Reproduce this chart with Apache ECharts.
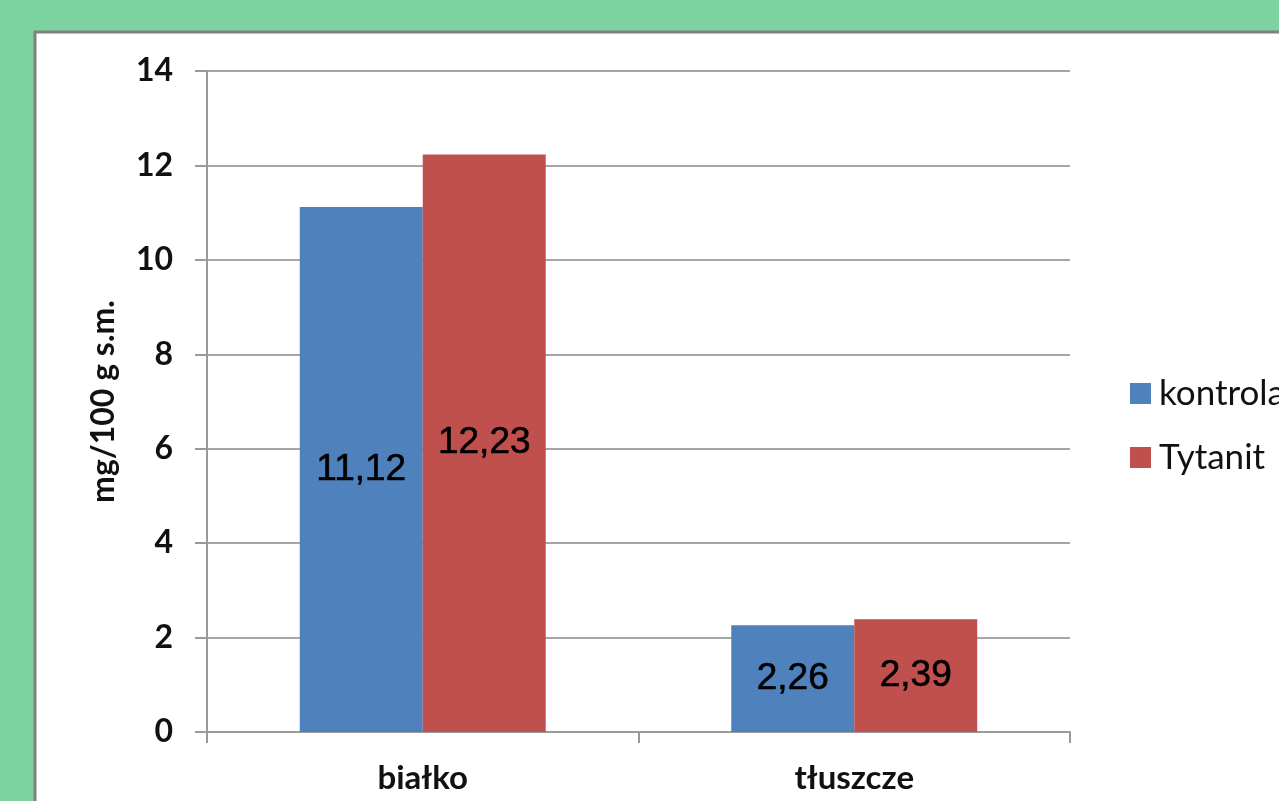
<!DOCTYPE html>
<html>
<head>
<meta charset="utf-8">
<script src="https://cdn.jsdelivr.net/npm/echarts@6/dist/echarts.min.js"></script>
<style>
  html, body { margin: 0; padding: 0; background: #7DD3A0; }
  #chart { width: 1279px; height: 801px; }
</style>
</head>
<body>
<div id="chart"></div>
<script>
const categories = ['białko', 'tłuszcze'];
const seriesNames = ['kontrola', 'Tytanit'];
const kontrola = [11.12, 2.26];
const tytanit = [12.23, 2.39];
const yTicks = { min: 0, max: 14, interval: 2 };

const chart = echarts.init(document.getElementById('chart'));

// values are printed with a decimal comma
const labelFmt = p => String(p.value).replace('.', ',');
const barLabel = {
  show: true,
  position: 'inside',
  formatter: labelFmt,
  fontFamily: '"Liberation Sans", Arial, sans-serif',
  fontSize: 37,
  color: '#000',
  textBorderColor: '#000',
  textBorderWidth: 0.6
};

chart.setOption({
  backgroundColor: '#7DD3A0',
  animation: false,
  graphic: [{
    type: 'rect',
    shape: { x: 35, y: 32, width: 1300, height: 820 },
    style: { fill: '#fff', stroke: '#808080', lineWidth: 3 },
    z: -10
  }],
  grid: { left: 207, right: 209, top: 71, bottom: 69 },
  legend: {
    orient: 'vertical',
    left: 1125,
    top: 371,
    itemWidth: 21,
    itemHeight: 21,
    itemGap: 29,
    icon: 'rect',
    textStyle: { fontFamily: 'Lato, sans-serif', fontSize: 35, color: '#111', padding: [0, 0, 0, 3] },
    data: seriesNames
  },
  xAxis: {
    type: 'category',
    data: categories,
    axisLine: { lineStyle: { color: '#9a9a9a', width: 2 } },
    axisTick: { show: true, length: 11, alignWithLabel: false, lineStyle: { color: '#9a9a9a', width: 2 } },
    axisLabel: { margin: 30, fontFamily: 'Lato, sans-serif', fontWeight: 'bold', fontSize: 33, color: '#111' }
  },
  yAxis: {
    type: 'value',
    min: yTicks.min,
    max: yTicks.max,
    interval: yTicks.interval,
    name: 'mg/100 g s.m.',
    nameLocation: 'middle',
    nameRotate: 90,
    nameGap: 87,
    nameTextStyle: { fontFamily: 'Lato, sans-serif', fontWeight: 'bold', fontSize: 32, color: '#111' },
    axisLine: { show: true, lineStyle: { color: '#9a9a9a', width: 2 } },
    axisTick: { show: true, length: 12, lineStyle: { color: '#9a9a9a', width: 2 } },
    axisLabel: { margin: 34, fontFamily: 'Lato, sans-serif', fontWeight: 'bold', fontSize: 32, color: '#111' },
    splitLine: { lineStyle: { color: '#a6a6a6', width: 2 } }
  },
  series: [
    {
      name: seriesNames[0],
      type: 'bar',
      data: kontrola,
      barGap: '0%',
      barCategoryGap: '43%',
      itemStyle: { color: '#4F81BD' },
      label: barLabel
    },
    {
      name: seriesNames[1],
      type: 'bar',
      data: tytanit,
      itemStyle: { color: '#C0504D' },
      label: barLabel
    }
  ]
});
</script>
</body>
</html>
